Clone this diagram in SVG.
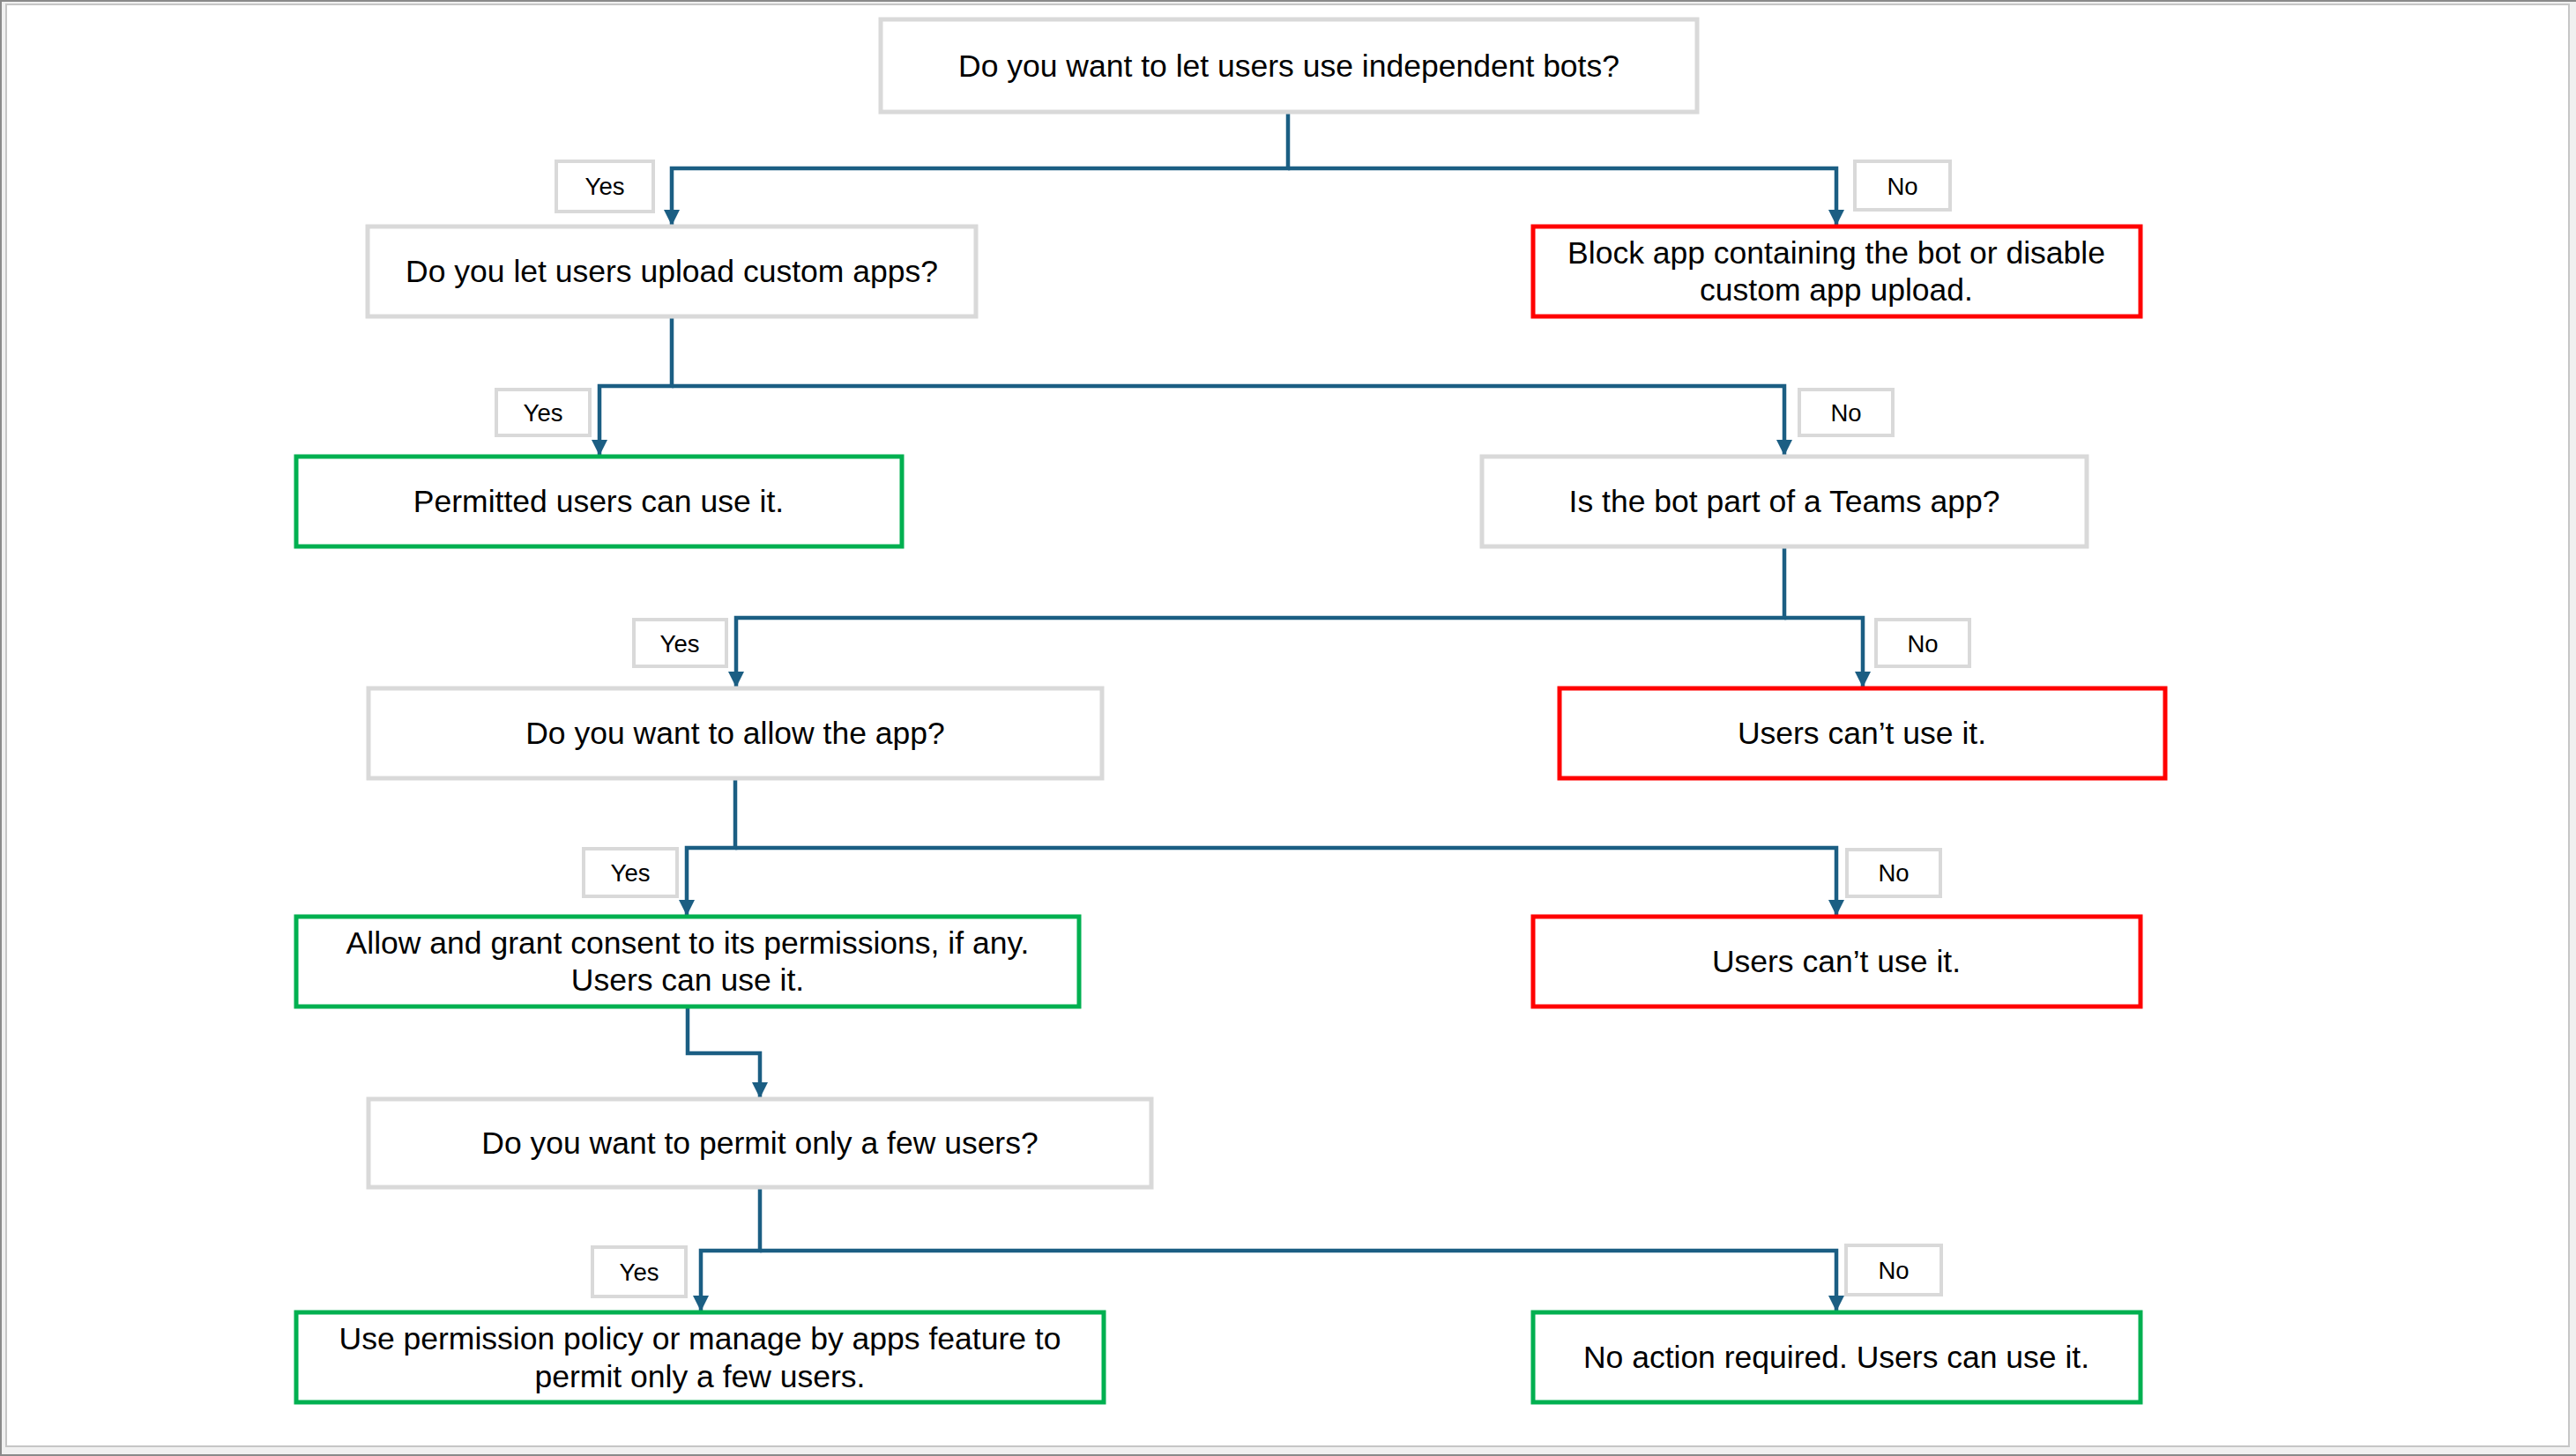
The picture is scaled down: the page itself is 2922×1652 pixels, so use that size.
<svg xmlns="http://www.w3.org/2000/svg" width="2922" height="1652" viewBox="0 0 2922 1652">
<style>
.box{fill:#fff;stroke-width:5}
.q{stroke:#d9d9d9}
.r{stroke:#ff0000}
.g{stroke:#00b050}
.lbl{fill:#fff;stroke:#d9d9d9;stroke-width:4}
.t{font-family:"Liberation Sans",Arial,sans-serif;font-size:35.5px;fill:#000;text-anchor:middle;dominant-baseline:central}
.lt{font-family:"Liberation Sans",Arial,sans-serif;font-size:27.5px;fill:#000;text-anchor:middle;dominant-baseline:central}
.c{fill:none;stroke:#1b5e83;stroke-width:4.5;marker-end:url(#ah)}
</style>
<defs>
<marker id="ah" markerUnits="userSpaceOnUse" markerWidth="18" markerHeight="18" viewBox="0 0 18 18" refX="17" refY="9" orient="auto">
<path d="M0,0 L18,9 L0,18 z" fill="#1b5e83"/>
</marker>
</defs>
<rect x="0" y="0" width="2922" height="1652" fill="#f0f0f0"/>
<path d="M1,1652 V1 H2922 M0,1651 H2922" fill="none" stroke="#8a8a8a" stroke-width="2"/>
<rect x="7" y="5" width="2907" height="1636" fill="#fff" stroke="#c6c6c6" stroke-width="2"/>

<g id="connectors">
<path class="c" d="M1461,127 V191 H762 V255"/>
<path class="c" d="M1461,191 H2083 V255"/>
<path class="c" d="M762,359 V438 H680 V516"/>
<path class="c" d="M762,438 H2024 V516"/>
<path class="c" d="M2024,620 V701 H835 V779"/>
<path class="c" d="M2024,701 H2113 V779"/>
<path class="c" d="M834,883 V962 H779 V1038"/>
<path class="c" d="M834,962 H2083 V1038"/>
<path class="c" d="M780,1142 V1195 H862 V1245"/>
<path class="c" d="M862,1347 V1419 H795 V1487"/>
<path class="c" d="M862,1419 H2083 V1487"/>
</g>

<g id="n1"><rect class="box q" x="999" y="22" width="926" height="105"/><text class="t" x="1462" y="75">Do you want to let users use independent bots?</text></g>
<g id="n2"><rect class="box q" x="417" y="257" width="690" height="102"/><text class="t" x="762" y="308">Do you let users upload custom apps?</text></g>
<g id="n3"><rect class="box r" x="1739" y="257" width="689" height="102"/><text class="t" x="2083" y="287">Block app containing the bot or disable</text><text class="t" x="2083" y="329">custom app upload.</text></g>
<g id="n4"><rect class="box g" x="336" y="518" width="687" height="102"/><text class="t" x="679" y="569">Permitted users can use it.</text></g>
<g id="n5"><rect class="box q" x="1681" y="518" width="686" height="102"/><text class="t" x="2024" y="569">Is the bot part of a Teams app?</text></g>
<g id="n6"><rect class="box q" x="418" y="781" width="832" height="102"/><text class="t" x="834" y="832">Do you want to allow the app?</text></g>
<g id="n7"><rect class="box r" x="1769" y="781" width="687" height="102"/><text class="t" x="2112" y="832">Users can’t use it.</text></g>
<g id="n8"><rect class="box g" x="336" y="1040" width="888" height="102"/><text class="t" x="780" y="1070">Allow and grant consent to its permissions, if any.</text><text class="t" x="780" y="1112">Users can use it.</text></g>
<g id="n9"><rect class="box r" x="1739" y="1040" width="689" height="102"/><text class="t" x="2083" y="1091">Users can’t use it.</text></g>
<g id="n10"><rect class="box q" x="418" y="1247" width="888" height="100"/><text class="t" x="862" y="1297">Do you want to permit only a few users?</text></g>
<g id="n11"><rect class="box g" x="336" y="1489" width="916" height="102"/><text class="t" x="794" y="1519">Use permission policy or manage by apps feature to</text><text class="t" x="794" y="1562">permit only a few users.</text></g>
<g id="n12"><rect class="box g" x="1739" y="1489" width="689" height="102"/><text class="t" x="2083" y="1540">No action required. Users can use it.</text></g>

<g id="l1"><rect class="lbl" x="631" y="183" width="110" height="57"/><text class="lt" x="686" y="211">Yes</text></g>
<g id="l2"><rect class="lbl" x="2104" y="183" width="108" height="55"/><text class="lt" x="2158" y="211">No</text></g>
<g id="l3"><rect class="lbl" x="563" y="442" width="106" height="52"/><text class="lt" x="616" y="468">Yes</text></g>
<g id="l4"><rect class="lbl" x="2041" y="442" width="106" height="52"/><text class="lt" x="2094" y="468">No</text></g>
<g id="l5"><rect class="lbl" x="719" y="703" width="105" height="53"/><text class="lt" x="771" y="730">Yes</text></g>
<g id="l6"><rect class="lbl" x="2128" y="703" width="106" height="53"/><text class="lt" x="2181" y="730">No</text></g>
<g id="l7"><rect class="lbl" x="662" y="963" width="106" height="54"/><text class="lt" x="715" y="990">Yes</text></g>
<g id="l8"><rect class="lbl" x="2095" y="964" width="106" height="53"/><text class="lt" x="2148" y="990">No</text></g>
<g id="l9"><rect class="lbl" x="672" y="1415" width="106" height="56"/><text class="lt" x="725" y="1443">Yes</text></g>
<g id="l10"><rect class="lbl" x="2094" y="1413" width="108" height="56"/><text class="lt" x="2148" y="1441">No</text></g>
</svg>
